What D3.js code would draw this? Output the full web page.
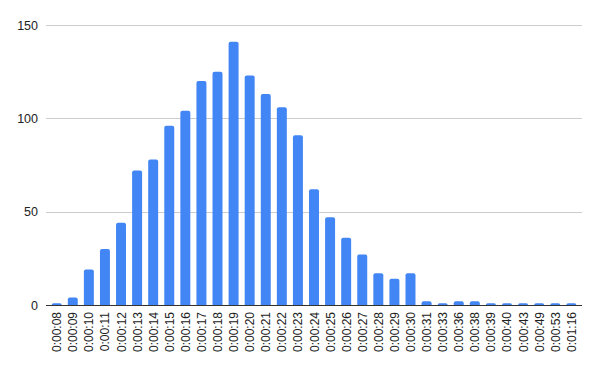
<!DOCTYPE html>
<html>
<head>
<meta charset="utf-8">
<script src="https://cdn.jsdelivr.net/npm/d3@7/dist/d3.min.js"></script>
<style>
  body { margin: 0; background: #fff; }
  svg { display: block; font-family: Arial, "Liberation Sans", sans-serif; }
</style>
</head>
<body>
<svg id="chart" width="600" height="371"></svg>
<script>
var labels = ["0:00:08","0:00:09","0:00:10","0:00:11","0:00:12","0:00:13","0:00:14","0:00:15",
  "0:00:16","0:00:17","0:00:18","0:00:19","0:00:20","0:00:21","0:00:22","0:00:23","0:00:24",
  "0:00:25","0:00:26","0:00:27","0:00:28","0:00:29","0:00:30","0:00:31","0:00:33","0:00:36",
  "0:00:38","0:00:39","0:00:40","0:00:43","0:00:49","0:00:53","0:01:16"];
var counts = [1,4,19,30,44,72,78,96,104,120,125,141,123,113,106,91,62,47,36,27,17,14,17,2,1,2,2,1,1,1,1,1,1];
var yTicks = [0,50,100,150];

var svg = d3.select("#chart");
var plotLeft = 46, plotRight = 582, plotTop = 25, plotBottom = 305;

var x = d3.scaleBand()
	.domain(labels)
	.range([plotLeft, plotRight])
	.paddingInner(0.38)
	.paddingOuter(0.355);

var y = d3.scaleLinear()
	.domain([0, 150])
	.range([plotBottom, plotTop]);

// gridlines + y labels
svg.append("g")
	.selectAll("line")
	.data(yTicks)
	.enter()
	.append("line")
	.attr("x1", plotLeft)
	.attr("x2", plotRight)
	.attr("y1", d => Math.round(y(d)) + 0.5)
	.attr("y2", d => Math.round(y(d)) + 0.5)
	.style("stroke", "#ccc")
	.style("stroke-width", 1);

svg.append("g")
	.selectAll("text")
	.data(yTicks)
	.enter()
	.append("text")
	.text(d => d)
	.attr("x", plotLeft - 8)
	.attr("y", d => y(d) + 4.5)
	.attr("text-anchor", "end")
	.style("font-size", "12.5px")
	.style("fill", "#222");

// bars with rounded tops
var r = 2;
svg.append("g")
	.selectAll("path")
	.data(counts)
	.enter()
	.append("path")
	.attr("d", function(d, i){
		var x0 = x(labels[i]), w = x.bandwidth();
		var y0 = y(d), y1 = y(0);
		var rr = Math.min(r, (y1 - y0));
		return "M" + x0 + "," + y1 +
			"V" + (y0 + rr) +
			"Q" + x0 + "," + y0 + " " + (x0 + rr) + "," + y0 +
			"H" + (x0 + w - rr) +
			"Q" + (x0 + w) + "," + y0 + " " + (x0 + w) + "," + (y0 + rr) +
			"V" + y1 + "Z";
	})
	.style("fill", "#4285f4");

// baseline on top of bars
svg.append("line")
	.attr("x1", plotLeft)
	.attr("x2", plotRight)
	.attr("y1", Math.round(y(0)) + 0.5)
	.attr("y2", Math.round(y(0)) + 0.5)
	.style("stroke", "#333");

// x labels, rotated
svg.append("g")
	.selectAll("text")
	.data(labels)
	.enter()
	.append("text")
	.text(d => d)
	.attr("transform", d => "translate(" + (x(d) + x.bandwidth()/2 + 4.5) + "," + (plotBottom + 7) + ") rotate(-90)")
	.attr("text-anchor", "end")
	.style("font-size", "12px")
	.style("fill", "#222");
</script>
</body>
</html>
